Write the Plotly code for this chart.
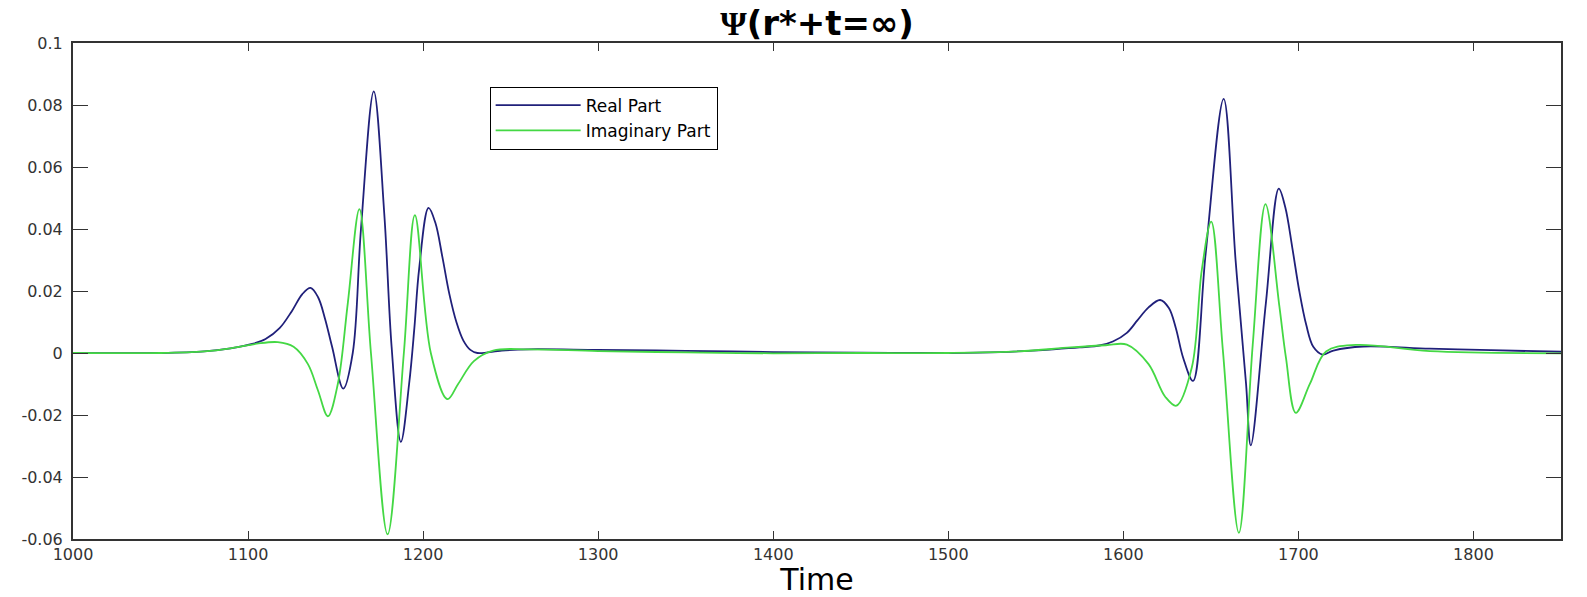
import plotly.graph_objects as go

# ---- data ----
t_real = [1000, 1050, 1075, 1090, 1103, 1110, 1118, 1125, 1131, 1135.7, 1140, 1144, 1148, 1154.4,
          1159.8, 1164.5, 1171.8, 1177.8, 1182, 1187.3, 1192, 1195, 1197.7, 1203.1, 1207, 1211,
          1215, 1219, 1223, 1227, 1231, 1245, 1260, 1300, 1350, 1400, 1450, 1500, 1530, 1560,
          1575, 1587, 1594, 1602, 1608, 1614.4, 1621, 1626, 1630, 1634.2, 1639.8, 1647,
          1657.3, 1664.1, 1670.1, 1672.8, 1681.4, 1688.8, 1692.5, 1696.5, 1700.5, 1704.5, 1708.5,
          1713.8, 1720, 1737, 1775, 1810, 1850]
real_part = [0.0, 0.0, 0.0005, 0.0015, 0.003, 0.0045, 0.008, 0.0135, 0.019, 0.021, 0.018, 0.011,
             0.002, -0.0115, 0.0, 0.040, 0.0844, 0.045, 0.002, -0.0287, -0.010, 0.008, 0.027, 0.0468,
             0.042, 0.031, 0.019, 0.010, 0.004, 0.001, 0.0, 0.0008, 0.0012, 0.001, 0.0007, 0.0003,
             0.0001, 0.0, 0.0003, 0.0012, 0.0018, 0.0025, 0.0037, 0.0065, 0.0105, 0.0147, 0.0171,
             0.0145, 0.008, -0.0016, -0.009, 0.032, 0.082, 0.030, -0.010, -0.0298, 0.016, 0.053,
             0.047, 0.034, 0.020, 0.009, 0.002, -0.0005, 0.0008, 0.0021, 0.0014, 0.0009, 0.0004]

t_imag = [1000, 1050, 1075, 1090, 1105, 1117, 1126, 1134.2, 1139.9, 1145.6, 1151.3, 1157,
          1163.6, 1170.2, 1179.7, 1189, 1195.3, 1204.4, 1213.9, 1220, 1229, 1240, 1260, 1300,
          1350, 1400, 1450, 1500, 1540, 1570, 1590, 1602, 1614.4, 1623.9, 1630.3, 1639.1,
          1644.8, 1650.2, 1656.9, 1666, 1673.9, 1681.2, 1689.1, 1692.9, 1698.5, 1706.6,
          1715.8, 1732.8, 1775, 1850]
imag_part = [0.0, 0.0, 0.0005, 0.0015, 0.003, 0.0035, 0.002, -0.0036, -0.012, -0.0204, -0.0099, 0.0162,
             0.0464, 0.0, -0.0585, 0.0, 0.0445, 0.0, -0.0149, -0.010, -0.0026, 0.0008, 0.0012, 0.0006,
             0.0002, -0.0001, 0.0, 0.0, 0.0005, 0.0018, 0.0025, 0.0027, -0.0036, -0.0141, -0.017, -0.0047,
             0.0267, 0.0424, 0.0005, -0.058, 0.0026, 0.048, 0.0152, -0.0016, -0.0193, -0.0099,
             0.0005, 0.0026, 0.0006, -0.0001]

x_ticks = [1000, 1100, 1200, 1300, 1400, 1500, 1600, 1700, 1800]
y_ticks = [-0.06, -0.04, -0.02, 0, 0.02, 0.04, 0.06, 0.08, 0.1]
y_tick_labels = ["-0.06", "-0.04", "-0.02", "0", "0.02", "0.04", "0.06", "0.08", "0.1"]

fig = go.Figure()
fig.add_trace(go.Scatter(x=t_real, y=real_part, mode="lines", name="Real Part",
                         line=dict(color="#20207a", width=1.8, shape="spline", smoothing=1.0)))
fig.add_trace(go.Scatter(x=t_imag, y=imag_part, mode="lines", name="Imaginary Part",
                         line=dict(color="#44d844", width=1.8, shape="spline", smoothing=1.0)))

axis_common = dict(showline=True, linecolor="#333333", linewidth=2, mirror="ticks",
                   ticks="inside", tickcolor="#333333", showgrid=False, zeroline=False,
                   tickfont=dict(family="DejaVu Sans", size=16, color="#333333"))

fig.update_layout(
    width=1587, height=597,
    margin=dict(l=73, r=26, t=43, b=44),
    paper_bgcolor="white", plot_bgcolor="white",
    title=dict(text="<b><span style='font-family:Liberation Serif'>Ψ</span>(r*+t=∞)</b>",
               x=0.5, xref="paper", y=0.962, yanchor="middle",
               font=dict(family="DejaVu Sans", size=34, color="black")),
    xaxis=dict(range=[1000, 1850], tickvals=x_ticks, ticklen=8,
               title=dict(text="Time", font=dict(family="DejaVu Sans", size=30, color="black"),
                          standoff=0),
               **axis_common),
    yaxis=dict(range=[-0.06, 0.1], tickvals=y_ticks, ticktext=y_tick_labels, ticklen=15,
               ticklabelstandoff=5,
               **axis_common),
    legend=dict(x=0.28, y=0.912, xanchor="left", yanchor="top",
                bgcolor="white", bordercolor="black", borderwidth=1,
                font=dict(family="DejaVu Sans", size=17, color="black"),
                tracegroupgap=0, itemwidth=85),
    showlegend=True,
)

fig.write_html("out.html")
